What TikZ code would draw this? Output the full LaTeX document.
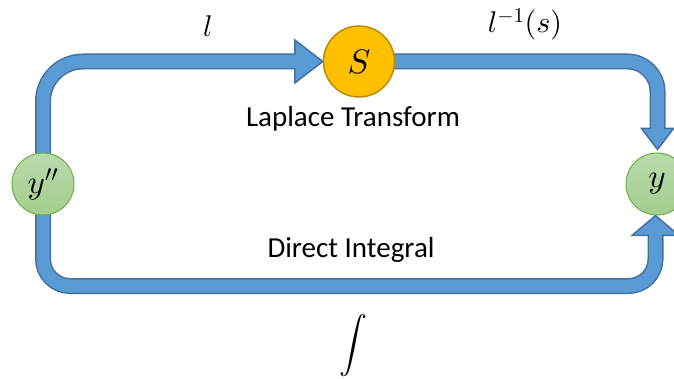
\documentclass[tikz,border=0pt]{standalone}
\usepackage{fontspec}
\setmainfont{Carlito}
\DeclareFontShape{OML}{cmm}{m}{it}{<->cmmi10}{}
\DeclareFontShape{OT1}{cmr}{m}{n}{<->cmr10}{}
\DeclareFontShape{OMS}{cmsy}{m}{n}{<->cmsy10}{}
\DeclareFontShape{OMX}{cmex}{m}{n}{<->cmex10}{}
\usetikzlibrary{calc,backgrounds}
\definecolor{bluefill}{HTML}{5B9BD5}
\definecolor{bluedark}{HTML}{41719C}
\definecolor{orangefill}{HTML}{FFC000}
\definecolor{orangedark}{HTML}{BC8C00}
\definecolor{greenT}{HTML}{B9DAAB}
\definecolor{greenB}{HTML}{A5CD8F}
\definecolor{greendark}{HTML}{70AD47}
\tikzset{
  bandout/.style={line width=16pt, draw=bluedark},
  bandin/.style={line width=13pt, draw=bluefill},
  headst/.style={fill=bluefill, draw=bluedark, line width=1.5pt, line join=miter},
  gcirc/.style={circle, draw=greendark, line width=1pt, top color=greenT, bottom color=greenB, inner sep=0pt, minimum size=62pt, font=\fontsize{33}{38}\selectfont},
  ocirc/.style={circle, draw=orangedark, line width=1.5pt, fill=orangefill, inner sep=0pt, minimum size=71pt, font=\fontsize{34}{40}\selectfont},
  txt/.style={inner sep=0pt, font=\fontsize{29}{34}\selectfont},
  mlbl/.style={inner sep=0pt, font=\fontsize{30}{36}\selectfont}
}
\begin{document}
\begin{tikzpicture}[x=1pt,y=-1pt]
\clip (0,0) rectangle (674,379);
% nodes
\node[gcirc] (ypp) at (43,184) {$y''$};
\node[ocirc] (S) at (359,61.5) {$S$};
\node[gcirc] (y) at (657,184) {$y$};
% coordinates for arrow heads
\coordinate (tlb) at ($(S.west)+(-28,0)$);
\coordinate (trt) at ($(y.north)+(0.5,-3)$);
\coordinate (trb) at ($(trt)+(0,-21)$);
\coordinate (brt) at ($(y.south)+(-1.5,0)$);
\coordinate (brb) at ($(brt)+(0,20)$);
\begin{scope}[on background layer]
  \fill[white] (0,0) rectangle (674,379);
  % top-left: y'' -> S
  \draw[bandout, rounded corners=40pt] (ypp.center) |- (tlb);
  \draw[headst] ($(tlb)+(0,-21.5)$) -- (S.west) -- ($(tlb)+(0,21.5)$) -- cycle;
  \draw[bandin, rounded corners=40pt] (ypp.center) |- ($(tlb)+(2,0)$);
  % top-right: S -> y
  \draw[bandout, rounded corners=30pt] (S.center) -| (trb);
  \draw[headst] ($(trb)+(-16,0)$) -- (trt) -- ($(trb)+(16,0)$) -- cycle;
  \draw[bandin, rounded corners=30pt] (S.center) -| ($(trb)+(0,2)$);
  % bottom: y'' -> y
  \draw[bandout, rounded corners=27pt] (ypp.center) |- ($(brb)+(0,50.5)$) -- (brb);
  \draw[headst] ($(brb)+(-23.5,0)$) -- (brt) -- ($(brb)+(23.5,0)$) -- cycle;
  \draw[bandin, rounded corners=27pt] (ypp.center) |- ($(brb)+(0,50.5)$) -- ($(brb)+(0,-2)$);
\end{scope}
% labels
\node[mlbl, anchor=base] (l1) at (208,37) {$l$};
\node[mlbl, anchor=base] (l2) at (525,33) {$l^{-1}(s)$};
\node[txt, anchor=base] (lt) at (353,127) {Laplace Transform};
\node[txt, anchor=base] (di) at (351,258) {Direct Integral};
\node[inner sep=0pt, font=\fontsize{28}{34}\selectfont] (int) at (353,346) {$\displaystyle\int$};
\end{tikzpicture}
\end{document}
